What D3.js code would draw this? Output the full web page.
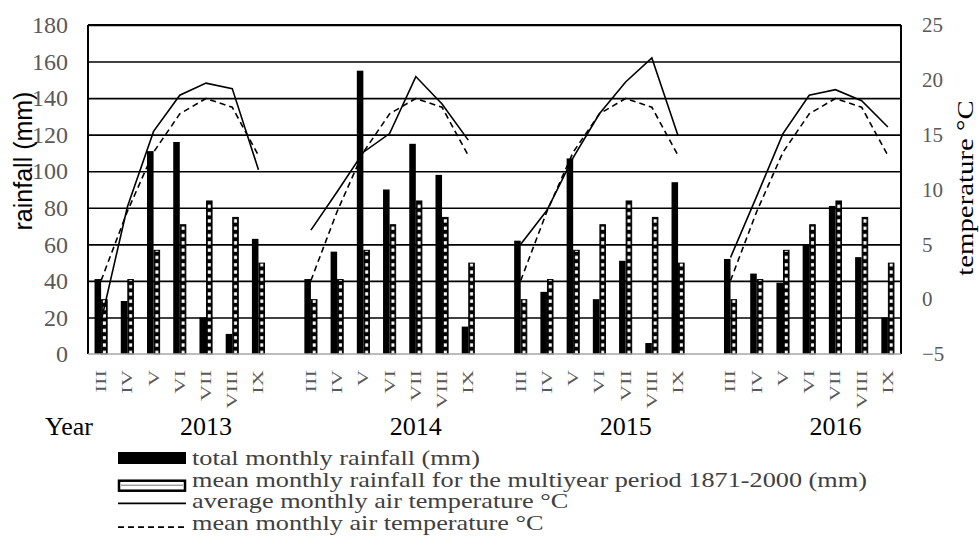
<!DOCTYPE html>
<meta charset="utf-8">
<style>
  body { margin: 0; background: #fff; }
  .serif { font-family: "Liberation Serif", "Times New Roman", serif; }
  .sans { font-family: "Liberation Sans", Arial, sans-serif; }
</style>
<div class="chart"></div>
<script src="https://cdn.jsdelivr.net/npm/d3@7/dist/d3.min.js"></script>
<script>
  var years = ["2013", "2014", "2015", "2016"];
  var months = ["III", "IV", "V", "VI", "VII", "VIII", "IX"];

  // total monthly rainfall (mm), per year, III..IX
  var rain2013 = [41, 29, 111, 116, 20, 11, 63];
  var rain2014 = [41, 56, 155, 90, 115, 98, 15];
  var rain2015 = [62, 34, 107, 30, 51, 6, 94];
  var rain2016 = [52, 44, 39, 60, 81, 53, 20];
  // multiyear mean rainfall 1871-2000 (mm)
  var rainMean = [30, 41, 57, 71, 84, 75, 50];

  // average monthly air temperature (°C)
  var temp2013 = [-2.0, 8.4, 15.3, 18.6, 19.7, 19.2, 11.8];
  var temp2014 = [6.3, 9.8, 13.4, 15.1, 20.3, 17.8, 14.5];
  var temp2015 = [5.0, 8.1, 12.9, 16.9, 19.8, 22.0, 14.9];
  var temp2016 = [3.8, 9.4, 15.1, 18.6, 19.1, 18.1, 15.7];
  // mean monthly air temperature (multiyear)
  var tempMean = [1.7, 8.0, 13.4, 16.9, 18.3, 17.5, 13.1];

  var rainTicks = [0, 20, 40, 60, 80, 100, 120, 140, 160, 180];
  var tempTicks = [-5, 0, 5, 10, 15, 20, 25];

  var legendLabels = [
    "total monthly rainfall (mm)",
    "mean monthly rainfall for the multiyear period 1871-2000 (mm)",
    "average monthly air temperature °C",
    "mean monthly air temperature °C"
  ];

  var rainByYear = [rain2013, rain2014, rain2015, rain2016];
  var tempByYear = [temp2013, temp2014, temp2015, temp2016];

  var margin = {top: 25, right: 78, bottom: 198, left: 88},
      width = 979 - margin.left - margin.right,
      height = 552 - margin.top - margin.bottom;

  // category keys: 7 months per year, one empty slot between years
  var keys = [];
  var data = [];
  years.forEach(function(yr, yi) {
    months.forEach(function(m, mi) {
      var k = yr + "-" + m;
      keys.push(k);
      data.push({key: k, year: yr, month: m, rain: rainByYear[yi][mi], mean: rainMean[mi],
                 temp: tempByYear[yi][mi], tmean: tempMean[mi]});
    });
    if (yi < years.length - 1) keys.push("gap-" + yr);
  });

  var x = d3.scaleBand().domain(keys).range([0, width]).paddingInner(0.5).paddingOuter(0.25);
  var bw = x.bandwidth() / 2;
  var y = d3.scaleLinear().domain([0, 180]).range([height, 0]);
  var yT = d3.scaleLinear().domain([-5, 25]).range([height, 0]);

  var svg = d3.select(".chart").append("svg")
      .attr("width", 979)
      .attr("height", 552);

  svg.append("rect").attr("width", 979).attr("height", 552).attr("fill", "#fff");

  // pattern for the multiyear bars: black with a column of white squares
  var pat = svg.append("defs").append("pattern")
      .attr("id", "dots")
      .attr("patternUnits", "userSpaceOnUse")
      .attr("x", x(keys[0]) + bw)
      .attr("y", height + 2)
      .attr("width", x.step())
      .attr("height", 7.3);
  pat.append("rect").attr("width", x.step()).attr("height", 7.3).attr("fill", "#000");
  pat.append("rect").attr("x", (bw - 3) / 2).attr("y", 2).attr("width", 3).attr("height", 3.3).attr("fill", "#fff");

  var g = svg.append("g").attr("transform", "translate(" + margin.left + "," + margin.top + ")");

  // gridlines
  g.append("g")
      .attr("class", "grid")
      .call(d3.axisLeft(y).tickValues(rainTicks.slice(1)).tickSize(-width).tickFormat(""))
      .call(function(s) { s.select(".domain").remove(); })
      .selectAll("line")
      .attr("stroke", "#000")
      .attr("stroke-width", 1.6);

  // bars
  g.selectAll(".bar")
      .data(data)
      .enter().append("rect")
      .attr("class", "bar")
      .attr("x", function(d) { return x(d.key); })
      .attr("y", function(d) { return y(d.rain); })
      .attr("width", bw)
      .attr("height", function(d) { return height - y(d.rain); })
      .attr("fill", "#000");

  g.selectAll(".mbar")
      .data(data)
      .enter().append("rect")
      .attr("class", "mbar")
      .attr("x", function(d) { return x(d.key) + bw + 0.5; })
      .attr("y", function(d) { return y(d.mean) + 0.5; })
      .attr("width", bw - 1)
      .attr("height", function(d) { return height - y(d.mean) - 0.5; })
      .attr("fill", "url(#dots)")
      .attr("stroke", "#000")
      .attr("stroke-width", 1);

  // temperature lines, one segment per year
  var line = function(field) {
    return d3.line()
      .x(function(d) { return x(d.key) + bw; })
      .y(function(d) { return yT(d[field]); });
  };
  years.forEach(function(yr) {
    var rows = data.filter(function(d) { return d.year === yr; });
    g.append("path").datum(rows)
      .attr("d", line("tmean"))
      .attr("fill", "none").attr("stroke", "#000").attr("stroke-width", 1.6)
      .attr("stroke-dasharray", "6,4");
    g.append("path").datum(rows)
      .attr("d", line("temp"))
      .attr("fill", "none").attr("stroke", "#000").attr("stroke-width", 1.6);
  });

  // frame
  g.append("line").attr("x1", 0).attr("x2", 0).attr("y1", 0).attr("y2", height)
      .attr("stroke", "#000").attr("stroke-width", 2);
  g.append("line").attr("x1", width).attr("x2", width).attr("y1", 0).attr("y2", height)
      .attr("stroke", "#000").attr("stroke-width", 2);
  g.append("line").attr("x1", 0).attr("x2", width).attr("y1", 0).attr("y2", 0)
      .attr("stroke", "#000").attr("stroke-width", 2);
  g.append("line").attr("x1", 0).attr("x2", width).attr("y1", height).attr("y2", height)
      .attr("stroke", "#a6a6a6").attr("stroke-width", 1.5);

  // left axis labels
  g.append("g")
      .call(d3.axisLeft(y).tickValues(rainTicks).tickSize(0).tickPadding(20))
      .call(function(s) { s.select(".domain").remove(); })
      .selectAll("text")
      .attr("class", "serif")
      .style("font-family", "'Liberation Serif', serif")
      .style("font-size", "24px")
      .attr("fill", "#595959");

  // right axis labels
  g.append("g")
      .attr("transform", "translate(" + width + ",0)")
      .call(d3.axisRight(yT).tickValues(tempTicks).tickSize(0).tickPadding(21))
      .call(function(s) { s.select(".domain").remove(); })
      .selectAll("text")
      .style("font-family", "'Liberation Serif', serif")
      .style("font-size", "21px")
      .attr("fill", "#595959");

  // month labels (rotated)
  g.selectAll(".mlab")
      .data(data)
      .enter().append("text")
      .attr("class", "mlab serif")
      .attr("transform", function(d) { return "translate(" + (x(d.key) + bw) + "," + (height + 16) + ") rotate(-90) scale(1.5,1)"; })
      .attr("text-anchor", "end")
      .attr("dy", "0.33em")
      .style("font-size", "15px")
      .attr("fill", "#595959")
      .text(function(d) { return d.month; });

  // year labels, centred under July
  g.selectAll(".ylab")
      .data(years)
      .enter().append("text")
      .attr("class", "ylab serif")
      .attr("x", function(d) { return x(d + "-VII") + bw; })
      .attr("y", height + 81)
      .attr("text-anchor", "middle")
      .style("font-size", "26px")
      .text(function(d) { return d; });

  g.append("text")
      .attr("class", "serif")
      .attr("x", -43)
      .attr("y", height + 81)
      .style("font-size", "26px")
      .text("Year");

  // axis titles
  svg.append("text")
      .attr("class", "sans")
      .attr("transform", "translate(32,161) rotate(-90)")
      .attr("text-anchor", "middle")
      .style("font-size", "25px")
      .text("rainfall (mm)");

  svg.append("text")
      .attr("class", "serif")
      .attr("transform", "translate(973,188) rotate(-90) scale(1.2,1)")
      .attr("text-anchor", "middle")
      .style("font-size", "24px")
      .text("temperature °C");

  // legend
  var leg = svg.append("g").attr("transform", "translate(118,465)");
  var rowH = 21.7;
  leg.append("rect").attr("x", 0).attr("y", -13).attr("width", 68).attr("height", 12).attr("fill", "#000");
  leg.append("rect").attr("x", 1).attr("y", rowH - 6).attr("width", 66).attr("height", 10)
      .attr("fill", "#fff").attr("stroke", "#000").attr("stroke-width", 2.5);
  leg.append("line").attr("x1", 3).attr("x2", 65).attr("y1", rowH - 1.5).attr("y2", rowH - 1.5)
      .attr("stroke", "#777").attr("stroke-width", 1);
  leg.append("line").attr("x1", 0).attr("x2", 68).attr("y1", 2 * rowH - 5).attr("y2", 2 * rowH - 5)
      .attr("stroke", "#000").attr("stroke-width", 1.6);
  leg.append("line").attr("x1", 0).attr("x2", 68).attr("y1", 3 * rowH - 3).attr("y2", 3 * rowH - 3)
      .attr("stroke", "#000").attr("stroke-width", 1.6).attr("stroke-dasharray", "6,4");

  leg.selectAll(".ltxt")
      .data(legendLabels)
      .enter().append("text")
      .attr("class", "ltxt serif")
      .attr("transform", function(d, i) { return "translate(74," + (i * rowH) + ") scale(1.25,1)"; })
      .style("font-size", "21px")
      .attr("fill", "#404040")
      .text(function(d) { return d; });
</script>
